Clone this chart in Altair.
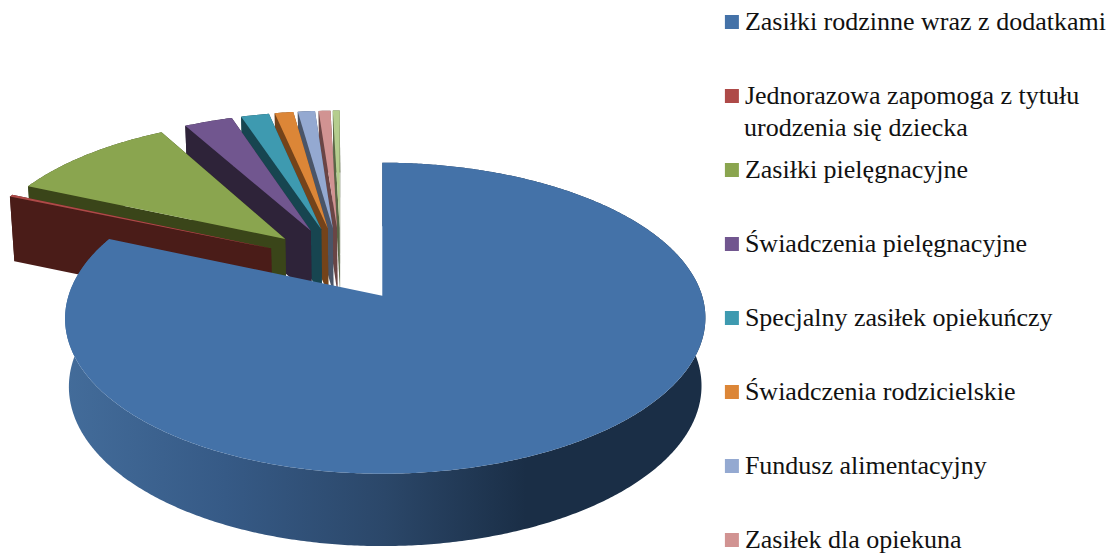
import numpy as np
import altair as alt

categories = ["Zasiłki rodzinne wraz z dodatkami", "Jednorazowa zapomoga z tytułu urodzenia się dziecka",
              "Zasiłki pielęgnacyjne", "Świadczenia pielęgnacyjne", "Specjalny zasiłek opiekuńczy",
              "Świadczenia rodzicielskie", "Fundusz alimentacyjny", "Zasiłek dla opiekuna", "Pozostałe"]
shares = [81.43, 0.25, 10.3, 2.97, 1.72, 1.14, 1.05, 0.72, 0.42]
top_colors = ["#4472a8", "#ae4a48", "#8aa54f", "#71568f", "#3e9ab0", "#dc8637", "#94a9d1", "#d19392", "#b5cd8e"]
wall_colors = ["#1f3654", "#4a1c18", "#3a4519", "#2e2339", "#174550", "#74431a", "#4a5568", "#6a4545", "#5a6646"]
legend_first_line = "Jednorazowa zapomoga z tytułu"
legend_second_line = ["urodzenia się dziecka"]

# picture geometry of the tilted, exploded pie (page pixels)
CX, CY, RX, RY, P = 340.6, 262.5, 307.8, 142.8, 0.14
MAIN_X, MAIN_RX, MAIN_BOW = 382.3, 306.8, 3.0
EXPLODE_MAIN, EXPLODE_REST = 0.27, 0.25
DEPTH, VX, SHRINK = 66.5, 382.3, 0.988
MARGIN = 8


def project(u, v, bottom=False, main=None):
    s = 1.0 / (1.0 + P * v)
    if main is None:
        x = CX + RX * u * s
    else:
        du = u - main
        x = MAIN_X + MAIN_RX * du * s + MAIN_BOW * du * du
    y = CY - RY * v * s
    if bottom:
        x = VX + (x - VX) * SHRINK
        y = y + DEPTH * s ** 0.45
    return [float(x - MARGIN), float(y - MARGIN)]


def feature(ring, key):
    ring = ring + [ring[0]]
    return {"type": "Feature", "properties": {"key": key},
            "geometry": {"type": "Polygon", "coordinates": [ring]}}


rest, main_wall, main_top = [], [], []
start = 0.0
slices = []
for i, share in enumerate(shares):
    sweep = share * 3.6
    slices.append((i, start, start + sweep))
    start += sweep

for i, a0, a1 in reversed(slices):
    mid = np.radians((a0 + a1) / 2)
    e = EXPLODE_MAIN if i == 0 else EXPLODE_REST
    cu, cv = e * np.sin(mid), e * np.cos(mid)
    th = np.radians(np.linspace(a0, a1, max(4, int(a1 - a0) * 2)))
    us, vs = cu + np.sin(th), cv + np.cos(th)
    m = cu if i == 0 else None
    arc_top = [project(u, v, main=m) for u, v in zip(us, vs)]
    arc_bot = [project(u, v, True, main=m) for u, v in zip(us, vs)]
    apex_top, apex_bot = project(cu, cv, main=m), project(cu, cv, True, main=m)
    wall_key = "wall-" + categories[i]
    if i == 0:
        main_wall.append(feature(arc_top + arc_bot[::-1], wall_key))
        main_top.append(feature([apex_top] + arc_top, categories[i]))
    else:
        rest.append(feature(arc_top + arc_bot[::-1], wall_key))
        rest.append(feature([apex_top, arc_top[-1], arc_bot[-1], apex_bot], wall_key))
        rest.append(feature([apex_top, arc_top[0], arc_bot[0], apex_bot], wall_key))
        rest.append(feature([apex_top] + arc_top, categories[i]))

projection = alt.Projection(type="identity", scale=1, translate=[0, 0])
domain = categories + ["wall-" + c for c in categories]
scale = alt.Scale(domain=domain, range=top_colors + wall_colors)
FONT, FONT_SIZE, INK = "Liberation Serif", 26.0, "#111111"
legend = alt.Legend(
    title=None, orient="none", legendX=710.9, legendY=1, values=categories[:8],
    symbolType="square", symbolSize=196, symbolStrokeWidth=0, rowPadding=48,
    labelFont=FONT, labelFontSize=FONT_SIZE, labelColor=INK, labelOffset=0, labelLimit=500,
    labelExpr=f"indexof(datum.label,'Jednorazowa')==0 ? '{legend_first_line}' : datum.label",
)
color = alt.Color("properties.key:N", scale=scale, legend=legend)

layer_rest = alt.Chart(alt.Data(values=rest)).mark_geoshape(strokeWidth=0).encode(color=color)
gradient = alt.Gradient(gradient="linear", x1=0, x2=1, y1=0, y2=0, stops=[
    alt.GradientStop(color="#436c9a", offset=0.0),
    alt.GradientStop(color="#365a86", offset=0.25),
    alt.GradientStop(color="#2b4769", offset=0.5),
    alt.GradientStop(color="#1a2e46", offset=0.72),
    alt.GradientStop(color="#1a2e46", offset=1.0),
])
layer_wall = alt.Chart(alt.Data(values=main_wall)).mark_geoshape(fill=gradient, strokeWidth=0)
layer_top = alt.Chart(alt.Data(values=main_top)).mark_geoshape(strokeWidth=0).encode(color=color)
layer_note = alt.Chart(alt.Data(values=[{"t": t} for t in legend_second_line])).mark_text(
    font=FONT, fontSize=FONT_SIZE, color=INK, align="left", baseline="alphabetic",
).encode(x=alt.value(736), y=alt.value(128), text="t:N")

chart = alt.layer(layer_rest, layer_wall, layer_top, layer_note, projection=projection).properties(
    width=1099, height=549, padding=0, autosize=alt.AutoSizeParams(type="none"),
).configure_view(stroke=None)
chart.save("out.html", embed_options={"renderer": "svg", "actions": False})
